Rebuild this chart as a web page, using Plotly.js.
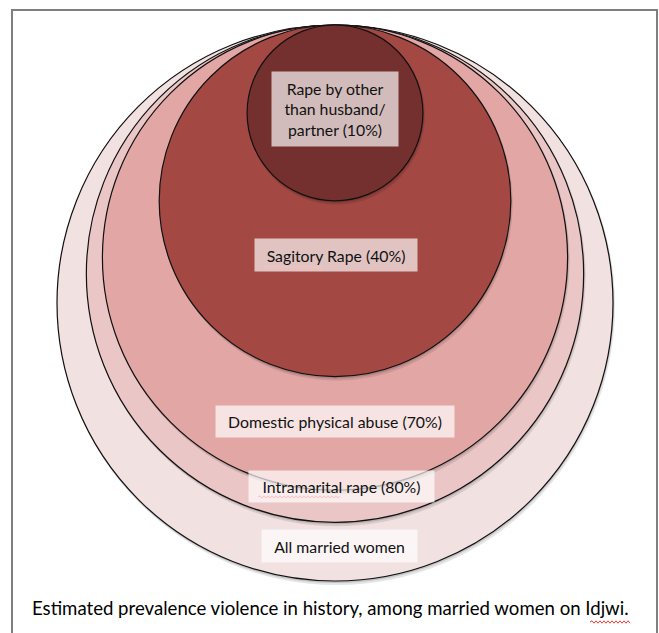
<!DOCTYPE html>
<html>
<head>
<meta charset="utf-8">
<script src="https://cdn.plot.ly/plotly-3.0.1.min.js"></script>
<style>html,body{margin:0;padding:0;background:#fff;}#chart{width:659px;height:633px;}</style>
</head>
<body>
<div id="chart"></div>
<script>
// ---- data ----
const categories = ["All married women", "Intramarital rape", "Domestic physical abuse", "Sagitory Rape", "Rape by other than husband/partner"];
const prevalence = [100, 80, 70, 40, 10];
const labelTexts = ["All married women", "Intramarital rape (80%)", "Domestic physical abuse (70%)", "Sagitory Rape (40%)", "Rape by other<br>than husband/<br>partner (10%)"];
const caption = "Estimated prevalence violence in history, among married women on Idjwi.";

// ---- styling / layout config ----
const fills = ["#f2e1e1", "#ebc6c6", "#e2a7a5", "#a34843", "#74302e"];
const cx = 335, topY = 25, R = 278;           // geometry of the nested circles (pixel axes)
const labelBoxes = [                           // centre x, centre y, box width, box height
  [339, 546, 155, 32],
  [341, 486, 185, 31],
  [335, 421, 238, 31],
  [336, 255, 162, 32],
  [335, 109, 126, 74]
];

const shapes = [];
// frame
shapes.push({type: "rect", xref: "x", yref: "y", x0: 12, y0: 10, x1: 657, y1: 660,
  line: {color: "#7f7f7f", width: 2}, fillcolor: "rgba(0,0,0,0)", layer: "below"});

prevalence.forEach((p, i) => {
  const r = R * Math.sqrt(p / 100);
  // soft shadow
  shapes.push({type: "circle", xref: "x", yref: "y", x0: cx - r + 1, x1: cx + r + 2, y0: topY + 1, y1: topY + 2 * r + 4,
    fillcolor: "rgba(0,0,0,0.10)", line: {width: 0}});
  shapes.push({type: "circle", xref: "x", yref: "y", x0: cx - r, x1: cx + r + 1, y0: topY, y1: topY + 2 * r + 2,
    fillcolor: "rgba(0,0,0,0.14)", line: {width: 0}});
  shapes.push({type: "circle", xref: "x", yref: "y", x0: cx - r, x1: cx + r, y0: topY, y1: topY + 2 * r,
    fillcolor: fills[i], line: {color: "#111111", width: 1.2}});
});

const annotations = labelTexts.map((t, i) => {
  const b = labelBoxes[i];
  return {x: b[0], y: b[1], xref: "x", yref: "y", text: t, showarrow: false,
    xanchor: "center", yanchor: "middle", width: b[2], height: b[3], borderpad: 0,
    bgcolor: "rgba(255,255,255,0.68)", font: {family: "Lato, 'Open Sans', sans-serif", size: 15.8, color: "#111111"}};
});
annotations.push({x: 30, y: 608, xref: "x", yref: "y", text: caption, showarrow: false,
  xanchor: "left", yanchor: "middle", font: {family: "Lato, 'Open Sans', sans-serif", size: 18.6, color: "#000000"}});

// spell-check squiggles (decoration)
function wavy(x0, x1, y) {
  let d = "M" + x0 + "," + y;
  let up = true;
  for (let x = x0 + 2; x <= x1; x += 2) { d += " L" + x + "," + (up ? y - 1.2 : y + 1.2); up = !up; }
  return d;
}
[[264, 322, 267], [258, 340, 497], [590, 630, 622]].forEach(s => {
  shapes.push({type: "path", xref: "x", yref: "y", path: wavy(s[0], s[1], s[2]), line: {color: "#e2413b", width: 1}});
});

const layout = {
  width: 659, height: 633,
  margin: {l: 0, r: 0, t: 0, b: 0},
  paper_bgcolor: "#ffffff", plot_bgcolor: "#ffffff",
  xaxis: {range: [0, 659], visible: false, fixedrange: true},
  yaxis: {range: [633, 0], visible: false, fixedrange: true},
  showlegend: false,
  shapes: shapes,
  annotations: annotations
};

Plotly.newPlot("chart", [{x: [], y: [], type: "scatter", mode: "markers", hoverinfo: "skip"}], layout, {staticPlot: true, displayModeBar: false});
</script>
</body>
</html>
